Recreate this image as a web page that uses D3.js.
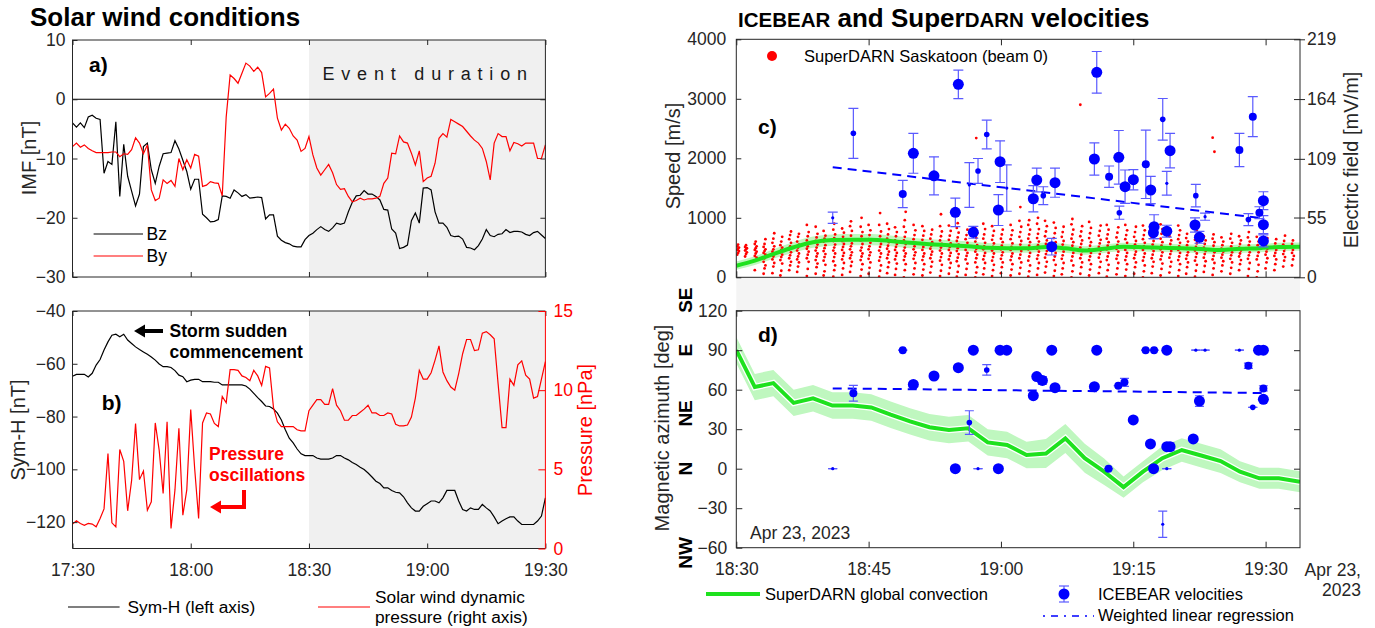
<!DOCTYPE html>
<html>
<head>
<meta charset="utf-8">
<script src="https://cdn.jsdelivr.net/npm/d3@7"></script>
<style>
body { margin: 0; background: #fff; }
svg text { font-family: "Liberation Sans", Arial, sans-serif; }
</style>
</head>
<body>
<svg id="fig" width="1375" height="628"></svg>
<script>
// ---- solar wind, one value per minute from 17:30 to 19:30 ----
var bz = [-4.0,-4.7,-4.0,-4.8,-3.0,-2.7,-3.2,-3.4,-12.5,-10.5,-11.0,-3.8,-16.4,-7.6,-13.0,-15.5,-18.0,-16.0,-8.0,-7.4,
  -11.9,-14.2,-11.3,-9.2,-9.1,-9.0,-7.0,-8.4,-10.3,-12.2,-15.2,-13.5,-13.5,-19.4,-20.0,-20.7,-20.6,-20.3,-16.3,-16.4,
  -16.7,-15.3,-15.8,-16.4,-16.1,-16.7,-16.6,-16.5,-16.6,-20.2,-19.5,-19.5,-23.1,-23.8,-24.2,-24.4,-24.8,-24.9,-24.9,-23.7,
  -23.0,-22.6,-22.0,-21.5,-22.0,-22.3,-21.7,-20.9,-21.1,-20.9,-19.0,-17.4,-16.3,-16.2,-15.4,-16.0,-16.0,-16.4,-17.0,-18.6,
  -18.7,-21.9,-22.6,-25.2,-25.0,-24.6,-20.5,-19.2,-20.9,-15.0,-14.9,-15.3,-19.0,-20.9,-20.9,-21.6,-23.0,-23.2,-23.1,-23.6,
  -25.0,-25.1,-25.4,-24.7,-23.6,-22.0,-23.0,-23.2,-22.8,-22.7,-22.0,-22.5,-22.3,-22.3,-22.4,-22.8,-23.0,-22.5,-22.3,-22.9,-23.5];
var by = [-8.0,-7.4,-8.1,-7.7,-8.3,-8.7,-9.0,-9.0,-9.0,-9.0,-8.9,-8.9,-9.7,-9.2,-9.3,-8.5,-6.5,-7.4,-9.2,-7.7,
  -15.3,-17.1,-16.7,-13.6,-14.2,-13.7,-14.7,-10.0,-11.9,-10.2,-11.6,-9.3,-9.6,-14.7,-14.5,-13.9,-14.1,-14.2,-16.3,-3.0,
  4.1,3.5,2.7,4.4,6.1,5.6,4.7,5.4,4.5,0.4,1.0,1.7,-3.2,-5.2,-4.2,-4.9,-6.2,-6.9,-8.8,-8.3,
  -6.3,-9.4,-11.6,-12.8,-11.9,-11.0,-12.4,-14.4,-15.2,-15.1,-16.4,-17.3,-17.1,-16.7,-17.0,-16.8,-16.8,-16.7,-16.4,-14.2,
  -13.3,-9.1,-9.2,-6.2,-7.2,-7.4,-9.1,-11.1,-8.7,-13.9,-13.3,-13.0,-10.8,-6.6,-5.8,-6.4,-3.4,-3.8,-4.2,-4.6,
  -5.4,-6.2,-6.9,-7.4,-8.3,-10.5,-13.6,-7.4,-5.8,-6.3,-6.3,-8.7,-7.3,-7.5,-7.9,-7.4,-7.4,-7.4,-10.0,-10.0,-7.7];
var symH = [-64.7,-64.0,-64.0,-64.0,-65.0,-63.6,-60.5,-58.4,-54.8,-51.7,-49.2,-48.8,-49.8,-48.8,-51.0,-52.3,-53.6,-54.6,-55.5,-56.4,
  -57.4,-58.6,-60.1,-61.1,-61.1,-61.4,-62.6,-64.3,-64.9,-66.8,-66.2,-65.9,-65.9,-66.8,-66.8,-66.8,-67.0,-67.0,-68.0,-68.0,
  -68.0,-68.0,-68.0,-68.0,-68.4,-69.6,-71.2,-72.8,-74.3,-76.0,-76.2,-77.1,-78.7,-81.3,-85.0,-88.2,-90.0,-92.3,-94.1,-94.8,
  -94.8,-94.8,-95.7,-96.1,-96.1,-96.1,-95.7,-94.8,-94.8,-95.7,-96.4,-97.4,-98.2,-99.2,-100.1,-101.4,-102.9,-104.5,-105.4,-107.0,
  -107.0,-108.0,-108.7,-108.9,-110.4,-112.7,-114.6,-115.8,-115.8,-114.0,-113.0,-112.0,-112.0,-112.7,-110.8,-108.0,-108.0,-108.0,-112.0,-115.2,
  -115.8,-114.6,-115.2,-115.2,-113.3,-114.6,-115.8,-118.0,-120.6,-119.6,-118.7,-118.0,-118.0,-119.6,-120.9,-120.9,-120.9,-120.9,-119.6,-117.7,-110.8];
var pressure = [1.54,1.75,1.58,1.47,1.58,1.54,1.37,1.9,2.5,6.0,1.62,1.37,6.25,5.5,2.38,4.3,7.9,4.35,4.9,2.42,
  2.95,7.93,6.2,3.47,8.0,1.26,3.7,7.6,2.1,3.7,8.77,5.05,1.9,7.93,8.56,8.5,7.9,7.7,9.6,9.2,
  11.3,11.3,11.25,10.9,10.8,10.6,11.25,10.9,10.3,11.5,11.4,8.9,8.0,7.7,7.7,7.7,7.7,7.5,7.43,7.43,
  8.7,9.05,9.4,9.4,9.1,9.1,10.1,9.05,8.7,8.1,8.1,8.4,8.4,8.6,8.8,9.05,8.56,8.56,8.4,8.4,
  8.56,8.5,7.85,7.74,7.74,7.8,8.3,9.5,11.25,10.7,10.7,11.1,11.9,12.8,11.15,10.6,10.2,10.0,11.05,12.3,
  13.2,13.2,12.5,12.55,13.6,13.7,13.5,13.25,10.4,7.64,7.64,10.7,10.3,11.6,11.85,10.95,10.7,9.5,9.6,10.7,11.8];
var eventSpan = [60, 120];   // minutes after 17:30

// ---- SuperDARN Saskatoon beam 0, one column per scan (minutes after 18:30) ----
var sdTime = [0.2,1.1,2.2,3.2,4.2,5.1,6.1,7.0,8.1,9.1,10.0,11.1,12.1,13.0,14.2,15.1,16.3,17.2,18.1,19.1,20.2,21.2,
  22.1,23.2,24.2,25.1,26.1,27.2,28.1,29.1,30.1,31.2,32.2,33.2,34.2,35.1,36.1,37.0,38.1,39.1,40.1,41.2,42.1,
  43.2,44.2,45.2,46.2,47.2,48.2,49.2,50.2,51.1,52.1,53.1,54.1,55.1,56.1,57.1,58.1,59.1,60.1,61.1,62.1,63.1];
var sdSpeed = [
  [380,410,440,460,480,500,520,550],
  [350,390,420,450,470,490,510,540],
  [120,290,330,360,400,430,460,490,520,560,600],
  [60,150,200,260,320,380,410,440,470,510,560,640],
  [70,180,240,300,350,390,430,470,520,580,650,740],
  [30,110,230,290,340,380,420,460,500,540,600,680],
  [120,200,260,320,370,420,470,520,580,640,710,770],
  [90,180,250,300,350,400,450,500,550,600,680,730],
  [20,140,260,320,380,430,480,520,570,620,690,760,880],
  [60,170,230,290,350,400,450,500,550,610,670,730,850],
  [30,100,210,280,340,390,440,490,540,600,650,700,780],
  [10,120,200,270,340,400,450,500,550,610,660,720,800,900],
  [40,150,240,300,360,410,460,510,560,610,680,750,820],
  [90,190,260,320,370,420,470,520,570,630,700,780,860,940],
  [20,130,220,290,350,400,450,500,560,620,690,760,850,1000],
  [60,160,250,310,370,420,470,520,580,640,710,790,880],
  [10,110,200,280,340,400,450,510,560,620,690,770,880,1080],
  [70,170,250,320,380,430,480,530,590,650,720,810,900],
  [40,140,230,300,360,410,460,510,560,620,690,760,840],
  [0,120,220,290,350,400,450,500,560,620,680,760,850,960,1100],
  [50,150,240,310,370,420,470,520,580,640,710,790,880],
  [30,130,220,290,350,400,460,510,570,630,700,780,860],
  [80,180,260,320,380,430,480,530,590,650,720,800],
  [20,110,210,280,340,400,450,500,560,620,690,770,860,1060],
  [60,160,240,300,360,410,460,510,570,630,700,780,870],
  [10,90,190,270,330,390,440,490,550,610,670,750,830,910],
  [40,140,230,300,360,410,460,520,580,640,710,800],
  [0,80,170,250,320,380,430,480,540,600,660,740,820,2340],
  [50,150,240,300,360,410,470,520,580,650,720,810,900],
  [20,120,210,280,340,400,450,510,570,630,700,780,860],
  [70,170,250,310,370,420,470,530,590,650,720,800],
  [30,130,220,290,350,400,460,510,570,640,710,790,880],
  [60,160,250,320,380,440,490,550,610,680,760,850,950,1180],
  [10,100,200,280,350,410,470,530,590,650,720,800,880,960],
  [40,150,240,310,370,430,480,540,600,660,730,810,900,1000],
  [80,180,260,330,390,440,500,560,620,690,770,860,950],
  [20,110,210,290,350,410,470,530,590,660,740,830,920],
  [50,150,240,310,370,430,490,550,610,680,760,850],
  [0,100,200,280,350,410,470,530,590,650,720,800,890,980],
  [60,170,250,320,380,440,500,560,620,690,770,860,2900],
  [30,130,220,290,350,410,470,530,590,660,740,830,930],
  [70,170,260,330,390,450,510,570,630,700,780,870],
  [10,120,210,290,350,410,470,530,590,650,720,800,880],
  [50,150,240,310,370,430,480,540,600,670,750,840],
  [20,130,220,290,350,410,460,520,580,640,710,790,880],
  [60,170,250,320,380,430,490,550,610,680,760,850],
  [0,100,200,280,340,400,460,520,580,640,710,790,870],
  [70,180,260,320,380,440,490,550,610,670,740,820],
  [30,140,230,300,360,420,470,530,590,650,730,810,890],
  [80,180,260,330,390,440,500,560,620,690,760],
  [20,120,220,290,350,410,460,520,580,640,710,790,870],
  [60,170,250,310,370,420,480,540,600,660,730],
  [10,110,210,280,340,400,450,510,570,630,700,780],
  [90,190,270,330,390,440,500,560,620,690],
  [40,150,240,300,360,420,470,530,590,650,720,2110,2346],
  [100,200,270,330,380,430,480,540,600,670],
  [60,160,250,310,370,420,470,520,580,650,730],
  [120,220,290,350,400,450,500,560,620,690],
  [20,140,240,310,370,420,480,540,600,670,760],
  [0,100,210,300,360,420,480,540,600,680],
  [150,250,320,380,430,480,540,600,660],
  [120,220,300,360,410,460,510,570,640],
  [180,280,340,390,440,490,550,610,700],
  [200,300,360,410,460,510,560,620]
];

// ---- SuperDARN global convection at the ICEBEAR location ----
var convTime = [0,2.1,4.2,6.5,8.7,10.9,13.2,15.3,17.5,19.7,21.9,24.1,26.3,28.5,30.7,32.9,35.1,37.3,39.5,41.7,
  43.9,46.1,48.3,50.5,52.7,54.9,57.1,59.3,61.5,63.9];
var convSpeed = [195,280,390,505,590,625,633,633,612,580,555,540,520,495,487,487,510,487,450,480,
  512,505,495,487,475,460,480,490,510,515];
var convSpeedErr = [70,75,80,90,95,95,95,95,90,90,85,85,80,80,75,75,75,75,70,70,70,70,70,70,70,70,70,70,70,70];
var convAz = [90,62,65,50,53.5,48,48,46.5,41,36,31.5,29.4,30.7,20,18,10.4,11.5,23,8,-2.3,
  -14,-2.3,8,14.2,10,5.8,-2.3,-7.3,-7.3,-9.9];
var convAzErr = [10,10,10,10,10,10,10,10,10,10,10,10,10,10,10,10,11,11,11,10,8,8,9,9,9,9,8,8,8,8];

// ---- ICEBEAR velocities (minutes after 18:30) ----
var icTime = [10.93,13.27,18.87,20.07,22.41,24.83,25.17,26.42,26.87,27.4,28.39,29.71,29.9,30.66,33.67,34.06,34.8,
  35.76,36.13,40.59,40.86,42.26,43.42,43.36,44.07,45.01,46.42,46.98,47.28,47.36,48.34,48.8,48.8,49.17,
  52.0,52.09,52.5,53.14,57.03,58.05,58.55,59.3,59.75,59.75,59.75];
var icSpeed = [1000,2420,1400,2084,1705,1092,3243,1551,756,1787,2400,1131,1943,1500,1320,1635,1372,
  515,1590,1988,3445,1691,1086,2017,1523,1640,1899,1467,750,851,2655,1580,775,2128,
  879,1372,672,1019,2140,970,2700,1086,1288,885,612];
var icSpeedErr = [95,420,230,335,320,240,240,375,100,210,240,260,350,390,220,200,150,
  140,245,270,350,180,110,450,280,170,575,230,100,200,350,200,100,290,
  120,190,100,60,280,100,335,100,150,150,100];
var icWeight = [1,2,3,4,4,4,4,1,4,2,2,4,4,1,4,4,2,4,4,4,4,3,2,4,4,4,3,4,4,4,2,1,4,4,4,2,4,1,3,2,3,3,4,4,4];

var azTime = [10.93,13.27,18.87,20.07,22.41,24.83,25.17,26.42,26.87,27.4,28.39,29.71,29.9,30.66,33.67,34.06,34.7,
  35.76,36.13,40.59,40.86,42.2,43.3,44.0,45.0,46.4,46.95,47.3,47.36,48.34,48.8,48.8,48.8,49.17,
  51.8,52.09,52.5,53.14,57.03,58.05,58.55,59.2,59.75,59.75,59.75];
var azimuth = [0,57.3,90,64,70.4,0,76.7,35,90,0,75,0,90,90,55.5,70,67,
  90,61.5,62.3,90,0,63,65.6,37,90,18.8,0,90,-42.2,90,16.7,0,16.7,
  22.6,90,51.4,90,90,78.2,46.6,90,90,61,52.7];
var azimuthErr = [0,6,0,0,0,0,0,9,0,0,4,0,0,0,0,0,3,0,0,0,0,0,0,3,0,0,0,0,0,10,0,0,0,3,0,0,4,0,0,2,0,0,0,2,0];
var azWeight = [1,3,3,4,4,4,4,2,4,1,2,4,4,4,4,4,4,4,4,4,4,3,3,3,4,3,4,4,3,1,4,4,1,4,4,1,4,1,1,3,2,4,4,3,4];

// weighted linear regression end points [minute, value]
var regSpeed = [[10.93, 1850], [59.75, 990]];
var regAz = [[10.93, 61], [59.75, 57.5]];

var eTicks = [0, 55, 109, 164, 219];
var dirNames = ["SE", "E", "NE", "N", "NW"];
var dirAt = [128, 90, 42, 0, -64];

// ---------------------------------------------------------------
var svg = d3.select("#fig");
var AX = "#262626";
var BLUE = "#0000ff", EBAR = "#5a5aff", RED = "#ff0000", GREEN = "#1ee11e", BAND = "#bff7bf";
var AL = 72.5, AR = 545.4;   // left/right edge of panels a and b

var t0ab = Date.UTC(2023, 3, 23, 17, 30);
var t0cd = Date.UTC(2023, 3, 23, 18, 30);
function atMin(base, m) { return new Date(base + m * 60000); }

var xab = d3.scaleUtc().domain([atMin(t0ab, 0), atMin(t0ab, 120)]).range([AL, AR]);
var xcd = d3.scaleUtc().domain([atMin(t0cd, 0), atMin(t0cd, 63.9)]).range([736.3, 1300]);
var hm = d3.utcFormat("%H:%M");

function styleAxis(g, color, size) {
    g.select(".domain").remove();
    g.selectAll("line").attr("stroke", color || AX);
    g.selectAll("text").attr("fill", color || AX).style("font-size", (size || 17.5) + "px");
    return g;
}

function box(x0, x1, y0, y1) {
    svg.append("rect").attr("x", x0).attr("y", y0)
        .attr("width", x1 - x0).attr("height", y1 - y0)
        .attr("fill", "none").attr("stroke", AX).attr("stroke-width", 1);
}

function vText(txt, x, y, size, color, weight) {
    return svg.append("text")
        .attr("transform", "translate(" + x + "," + y + ") rotate(-90)")
        .attr("text-anchor", "middle").attr("dy", "0.35em")
        .style("font-size", size + "px").style("font-weight", weight || "normal")
        .attr("fill", color || AX).text(txt);
}

function label(txt, x, y, size, opts) {
    opts = opts || {};
    return svg.append("text").attr("x", x).attr("y", y)
        .style("font-size", size + "px")
        .style("font-weight", opts.bold ? "bold" : "normal")
        .attr("text-anchor", opts.anchor || "start")
        .attr("fill", opts.color || "#000").text(txt);
}

function eventShade(y0, y1) {
    var xa = xab(atMin(t0ab, eventSpan[0])), xb = xab(atMin(t0ab, eventSpan[1]));
    svg.append("rect").attr("x", xa).attr("y", y0).attr("width", xb - xa).attr("height", y1 - y0).attr("fill", "#f0f0f0");
}

// ================= panel a =================
var ya = d3.scaleLinear().domain([-30, 10]).range([277, 40]);
eventShade(40, 277);
svg.append("line").attr("x1", AL).attr("x2", AR).attr("y1", ya(0)).attr("y2", ya(0))
    .attr("stroke", "#000").attr("stroke-width", 1);

var lineA = d3.line().x(function(d, i) { return xab(atMin(t0ab, i)); }).y(function(d) { return ya(d); });
svg.append("path").datum(bz).attr("d", lineA).attr("fill", "none").attr("stroke", "#000").attr("stroke-width", 1.2);
svg.append("path").datum(by).attr("d", lineA).attr("fill", "none").attr("stroke", RED).attr("stroke-width", 1.2);

styleAxis(svg.append("g").attr("transform", "translate(" + AL + ",0)")
    .call(d3.axisLeft(ya).tickValues([-30, -20, -10, 0, 10]).tickSize(-5).tickPadding(7)));
styleAxis(svg.append("g").attr("transform", "translate(" + AR + ",0)")
    .call(d3.axisRight(ya).tickValues([-20, -10, 0]).tickSize(-5).tickFormat("")));
styleAxis(svg.append("g").attr("transform", "translate(0,40)")
    .call(d3.axisTop(xab).ticks(d3.utcMinute.every(30)).tickSize(-5).tickFormat("")));
styleAxis(svg.append("g").attr("transform", "translate(0,277)")
    .call(d3.axisBottom(xab).ticks(d3.utcMinute.every(30)).tickSize(-5).tickFormat("")));
box(AL, AR, 40, 277);

label("Event duration", 322.5, 80, 18, { color: "#1a1a1a" }).style("letter-spacing", "6.8px");
label("a)", 89, 72, 21, { bold: true });
vText("IMF [nT]", 29, 158, 20);

svg.append("line").attr("x1", 93.6).attr("x2", 143).attr("y1", 234).attr("y2", 234).attr("stroke", "#000").attr("stroke-width", 1.2);
label("Bz", 146.5, 240, 17.5);
svg.append("line").attr("x1", 93.6).attr("x2", 143).attr("y1", 256).attr("y2", 256).attr("stroke", RED).attr("stroke-width", 1.2);
label("By", 146.5, 262, 17.5);

// ================= panel b =================
var yb = d3.scaleLinear().domain([-130, -40]).range([548.5, 311]);
var yp = d3.scaleLinear().domain([0, 15]).range([548.5, 311]);
eventShade(311, 548.5);

svg.append("path").datum(symH)
    .attr("d", d3.line().x(function(d, i) { return xab(atMin(t0ab, i)); }).y(function(d) { return yb(d); }))
    .attr("fill", "none").attr("stroke", "#000").attr("stroke-width", 1.2);
svg.append("path").datum(pressure)
    .attr("d", d3.line().x(function(d, i) { return xab(atMin(t0ab, i)); }).y(function(d) { return yp(d); }))
    .attr("fill", "none").attr("stroke", RED).attr("stroke-width", 1.2);

styleAxis(svg.append("g").attr("transform", "translate(" + AL + ",0)")
    .call(d3.axisLeft(yb).tickValues([-120, -100, -80, -60, -40]).tickSize(-5).tickPadding(7)));
styleAxis(svg.append("g").attr("transform", "translate(0,311)")
    .call(d3.axisTop(xab).ticks(d3.utcMinute.every(30)).tickSize(-5).tickFormat("")));
styleAxis(svg.append("g").attr("transform", "translate(0,548.5)")
    .call(d3.axisBottom(xab).ticks(d3.utcMinute.every(30)).tickSize(-5).tickPadding(15).tickFormat(hm)));
svg.append("path").attr("d", "M" + AR + ",311 H" + AL + " V548.5 H" + AR).attr("fill", "none").attr("stroke", AX);
styleAxis(svg.append("g").attr("transform", "translate(" + AR + ",0)")
    .call(d3.axisRight(yp).tickValues([0, 5, 10, 15]).tickSize(-7).tickPadding(8)), RED);
svg.append("line").attr("x1", AR).attr("x2", AR).attr("y1", 311).attr("y2", 548.5).attr("stroke", RED);

vText("Sym-H [nT]", 18, 430, 20);
vText("Pressure [nPa]", 585, 430, 20, RED);
label("b)", 101.8, 410, 21, { bold: true });

// storm sudden commencement arrow
svg.append("line").attr("x1", 163).attr("x2", 141).attr("y1", 331).attr("y2", 331).attr("stroke", "#000").attr("stroke-width", 4);
svg.append("polygon").attr("points", "134,331 145,324.5 145,337.5").attr("fill", "#000");
label("Storm sudden", 169.6, 337, 17.5, { bold: true });
label("commencement", 169.6, 358, 17.5, { bold: true });

label("Pressure", 209, 460, 17.5, { bold: true, color: RED });
label("oscillations", 209, 481, 17.5, { bold: true, color: RED });
svg.append("path").attr("d", "M244,490 V507 H218").attr("fill", "none").attr("stroke", RED).attr("stroke-width", 4);
svg.append("polygon").attr("points", "210,507 221,500.5 221,513.5").attr("fill", RED);

// legend below a/b
svg.append("line").attr("x1", 68).attr("x2", 119.6).attr("y1", 607).attr("y2", 607).attr("stroke", "#000").attr("stroke-width", 1.2);
label("Sym-H (left axis)", 127.5, 613, 17.3);
svg.append("line").attr("x1", 318).attr("x2", 370).attr("y1", 607).attr("y2", 607).attr("stroke", RED).attr("stroke-width", 1.2);
label("Solar wind dynamic", 375, 603, 17.3);
label("pressure (right axis)", 375, 623, 17.3);

// ================= titles =================
label("Solar wind conditions", 30, 26, 26, { bold: true });
var ttl = svg.append("text").attr("x", 738).attr("y", 27).style("font-size", "26px").style("font-weight", "bold");
ttl.append("tspan").style("font-size", "20.5px").text("ICEBEAR");
ttl.append("tspan").text(" and Super");
ttl.append("tspan").style("font-size", "20.5px").text("DARN");
ttl.append("tspan").text(" velocities");

// ================= panel c =================
var yc = d3.scaleLinear().domain([0, 4000]).range([277.3, 39.3]);
var yE = d3.scaleLinear().domain([0, 219]).range([277.3, 39.3]);
var yd = d3.scaleLinear().domain([-60, 120]).range([547.7, 310.7]);
var rScale = d3.scaleOrdinal().domain([1, 2, 3, 4]).range([1.6, 2.8, 4.0, 5.5]);

svg.append("rect").attr("x", 736.3).attr("y", 277.3).attr("width", 563.7).attr("height", 33.4).attr("fill", "#f4f4f4");

var defs = svg.append("defs");
defs.append("clipPath").attr("id", "clipC").append("rect").attr("x", 736.3).attr("y", 39.3).attr("width", 563.7).attr("height", 238);
defs.append("clipPath").attr("id", "clipD").append("rect").attr("x", 736.3).attr("y", 310.7).attr("width", 563.7).attr("height", 237);

var gc = svg.append("g").attr("clip-path", "url(#clipC)");

gc.append("path").datum(convTime)
    .attr("d", d3.area().curve(d3.curveMonotoneX)
        .x(function(d) { return xcd(atMin(t0cd, d)); })
        .y0(function(d, i) { return yc(convSpeed[i] - convSpeedErr[i]); })
        .y1(function(d, i) { return yc(convSpeed[i] + convSpeedErr[i]); }))
    .attr("fill", BAND);

// SuperDARN Saskatoon scatter
sdTime.forEach(function(t, i) {
    gc.selectAll(null).data(sdSpeed[i]).enter().append("circle")
        .attr("cx", function(v, j) { return xcd(atMin(t0cd, t)) + ((j % 3) - 1) * 0.9; })
        .attr("cy", function(v) { return yc(v); })
        .attr("r", 1.4).attr("fill", RED);
});

gc.append("path").datum(convTime)
    .attr("d", d3.line().curve(d3.curveMonotoneX)
        .x(function(d) { return xcd(atMin(t0cd, d)); })
        .y(function(d, i) { return yc(convSpeed[i]); }))
    .attr("fill", "none").attr("stroke", GREEN).attr("stroke-width", 4);

function errorBars(g, times, vals, errs, wts, ys, cap) {
    var idx = d3.range(times.length);
    var eb = g.append("g").attr("stroke", EBAR).attr("stroke-width", 1.2).attr("fill", "none");
    idx.forEach(function(i) {
        var x = xcd(atMin(t0cd, times[i]));
        var lo = ys(vals[i] - errs[i]), hi = ys(vals[i] + errs[i]);
        eb.append("line").attr("x1", x).attr("x2", x).attr("y1", lo).attr("y2", hi);
        eb.append("line").attr("x1", x - cap).attr("x2", x + cap).attr("y1", lo).attr("y2", lo);
        eb.append("line").attr("x1", x - cap).attr("x2", x + cap).attr("y1", hi).attr("y2", hi);
    });
    g.selectAll(null).data(idx).enter().append("circle")
        .attr("cx", function(i) { return xcd(atMin(t0cd, times[i])); })
        .attr("cy", function(i) { return ys(vals[i]); })
        .attr("r", function(i) { return rScale(wts[i]); })
        .attr("fill", BLUE);
}

var regLine = function(ys) {
    return d3.line().x(function(d) { return xcd(atMin(t0cd, d[0])); }).y(function(d) { return ys(d[1]); });
};
gc.append("path").datum(regSpeed).attr("d", regLine(yc))
    .attr("fill", "none").attr("stroke", BLUE).attr("stroke-width", 2).attr("stroke-dasharray", "9,6");
errorBars(gc, icTime, icSpeed, icSpeedErr, icWeight, yc, 5);

styleAxis(svg.append("g").attr("transform", "translate(736.3,0)")
    .call(d3.axisLeft(yc).tickValues([0, 1000, 2000, 3000, 4000]).tickSize(-5).tickPadding(10).tickFormat(d3.format("d"))));
styleAxis(svg.append("g").attr("transform", "translate(0,39.3)")
    .call(d3.axisTop(xcd).ticks(d3.utcMinute.every(15)).tickSize(-6).tickFormat("")));
styleAxis(svg.append("g").attr("transform", "translate(0,277.3)")
    .call(d3.axisBottom(xcd).ticks(d3.utcMinute.every(15)).tickSize(-6).tickFormat("")));
var rAx = styleAxis(svg.append("g").attr("transform", "translate(1300,0)")
    .call(d3.axisRight(yE).tickValues(eTicks).tickSize(5).tickPadding(2)));
rAx.selectAll(".tick line").attr("x1", -6);
box(736.3, 1300, 39.3, 277.3);

vText("Speed [m/s]", 673, 156, 20);
vText("Electric field [mV/m]", 1351, 160, 20);
label("c)", 758, 134, 21, { bold: true });

svg.append("circle").attr("cx", 772).attr("cy", 56).attr("r", 5).attr("fill", RED);
label("SuperDARN Saskatoon (beam 0)", 804, 62, 16.5);

// ================= panel d =================
var gd = svg.append("g").attr("clip-path", "url(#clipD)");
gd.append("path").datum(convTime)
    .attr("d", d3.area()
        .x(function(d) { return xcd(atMin(t0cd, d)); })
        .y0(function(d, i) { return yd(convAz[i] - convAzErr[i]); })
        .y1(function(d, i) { return yd(convAz[i] + convAzErr[i]); }))
    .attr("fill", BAND);
var azLine = d3.line()
    .x(function(d) { return xcd(atMin(t0cd, d)); })
    .y(function(d, i) { return yd(convAz[i]); });
gd.append("path").datum(convTime).attr("d", azLine).attr("fill", "none").attr("stroke", "#fff").attr("stroke-width", 6.5);
gd.append("path").datum(convTime).attr("d", azLine).attr("fill", "none").attr("stroke", GREEN).attr("stroke-width", 4);

gd.append("path").datum(regAz).attr("d", regLine(yd))
    .attr("fill", "none").attr("stroke", BLUE).attr("stroke-width", 2).attr("stroke-dasharray", "9,6");
errorBars(gd, azTime, azimuth, azimuthErr, azWeight, yd, 4.5);

styleAxis(svg.append("g").attr("transform", "translate(736.3,0)")
    .call(d3.axisLeft(yd).tickValues(d3.range(-60, 121, 30)).tickSize(-6).tickPadding(9)));
styleAxis(svg.append("g").attr("transform", "translate(1300,0)")
    .call(d3.axisRight(yd).tickValues(d3.range(-30, 91, 30)).tickSize(-6).tickFormat("")));
styleAxis(svg.append("g").attr("transform", "translate(0,310.7)")
    .call(d3.axisTop(xcd).ticks(d3.utcMinute.every(15)).tickSize(-6).tickFormat("")));
styleAxis(svg.append("g").attr("transform", "translate(0,547.7)")
    .call(d3.axisBottom(xcd).ticks(d3.utcMinute.every(15)).tickSize(-6).tickPadding(15).tickFormat(hm)));
box(736.3, 1300, 310.7, 547.7);

vText("Magnetic azimuth [deg]", 662, 428, 20);
dirNames.forEach(function(n, i) {
    vText(n, 685, yd(dirAt[i]), 19, "#000", "bold");
});
label("d)", 758, 342, 21, { bold: true });
label("Apr 23, 2023", 750, 539, 17.5, { color: AX });
label("Apr 23,", 1361, 576, 17.5, { color: AX, anchor: "end" });
label("2023", 1361, 596, 17.5, { color: AX, anchor: "end" });

// legend below c/d
svg.append("line").attr("x1", 706).attr("x2", 760).attr("y1", 594).attr("y2", 594).attr("stroke", GREEN).attr("stroke-width", 4);
label("SuperDARN global convection", 765, 600, 16.5);
var lg = svg.append("g").attr("stroke", EBAR).attr("stroke-width", 1.2);
lg.append("line").attr("x1", 1064).attr("x2", 1064).attr("y1", 586).attr("y2", 602);
lg.append("line").attr("x1", 1059).attr("x2", 1069).attr("y1", 586).attr("y2", 586);
lg.append("line").attr("x1", 1059).attr("x2", 1069).attr("y1", 602).attr("y2", 602);
svg.append("circle").attr("cx", 1064).attr("cy", 594).attr("r", 5.5).attr("fill", BLUE);
label("ICEBEAR velocities", 1098, 600, 16.5);
svg.append("line").attr("x1", 1043).attr("x2", 1094).attr("y1", 616).attr("y2", 616)
    .attr("stroke", BLUE).attr("stroke-width", 1.5).attr("stroke-dasharray", "2,6,7,6");
label("Weighted linear regression", 1098, 621, 16.5);
</script>
</body>
</html>
